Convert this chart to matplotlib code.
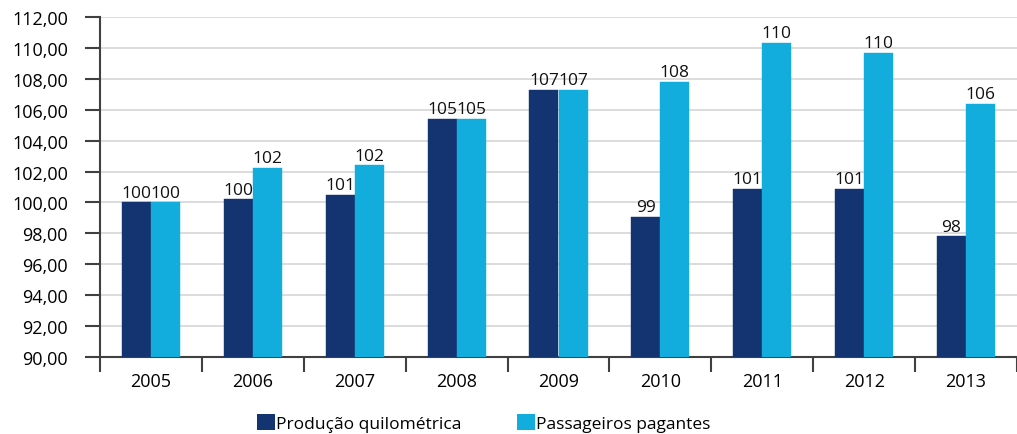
import matplotlib
matplotlib.use("Agg")
import matplotlib.pyplot as plt
import numpy as np
from matplotlib.patches import Patch

years = ["2005", "2006", "2007", "2008", "2009", "2010", "2011", "2012", "2013"]
producao = [100.0, 100.2, 100.5, 105.4, 107.3, 99.05, 100.9, 100.85, 97.8]
passageiros = [100.0, 102.25, 102.4, 105.4, 107.3, 107.8, 110.3, 109.7, 106.4]
producao_labels = ["100", "100", "101", "105", "107", "99", "101", "101", "98"]
passageiros_labels = ["100", "102", "102", "105", "107", "108", "110", "110", "106"]
yticks = [90, 92, 94, 96, 98, 100, 102, 104, 106, 108, 110, 112]

dark = "#143371"
light = "#12addc"

plt.rcParams['font.family'] = ['Open Sans', 'DejaVu Sans']

fig = plt.figure(figsize=(10.17, 4.35), dpi=100)
ax = fig.add_axes([100/1017, 1-358/435, 1-100/1017, (358-18)/435])

x = np.arange(len(years))
w = 0.285
ax.bar(x - w/2, [v - 90 for v in producao], w, bottom=90, color=dark, edgecolor=dark, linewidth=0.3, zorder=3)
ax.bar(x + w/2, [v - 90 for v in passageiros], w, bottom=90, color=light, edgecolor=light, linewidth=0.3, zorder=3)

for xi, v, lab in zip(x, producao, producao_labels):
    ax.text(xi - w/2, v + 0.12, lab, ha="center", va="bottom", fontsize=12.5, color="#111111", zorder=4)
for xi, v, lab in zip(x, passageiros, passageiros_labels):
    ax.text(xi + w/2, v + 0.12, lab, ha="center", va="bottom", fontsize=12.5, color="#111111", zorder=4)

ax.set_ylim(90, 112)
ax.set_xlim(-0.5, (1017-100)/103.1 - 0.5)
ax.set_yticks(yticks)
ax.set_yticklabels([f"{t:.2f}".replace(".", ",") for t in yticks], fontsize=13)
ax.yaxis.grid(True, color="#d9d9d9", linewidth=1.3, zorder=0)
ax.set_axisbelow(True)

ax.set_xticks(x)
ax.set_xticklabels(years, fontsize=13)
ax.tick_params(axis="x", which="major", length=0, pad=11)
ax.set_xticks(np.arange(len(years) + 1) - 0.5, minor=True)
ax.tick_params(axis="x", which="minor", length=11, width=1.5, color="#404040", direction="out")
ax.tick_params(axis="y", length=11, width=1.5, color="#404040", pad=12)

for s in ["top", "right"]:
    ax.spines[s].set_visible(False)
for s in ["left", "bottom"]:
    ax.spines[s].set_color("#404040")
    ax.spines[s].set_linewidth(1.5)

handles = [Patch(facecolor=dark, label="Produção quilométrica"),
           Patch(facecolor=light, label="Passageiros pagantes")]
fig.legend(handles=handles, loc="center", bbox_to_anchor=(484/1017, 1-424/435), ncol=2,
           frameon=False, fontsize=12.5, handlelength=1.0, handleheight=1.0,
           handletextpad=0.1, columnspacing=3.2)

fig.savefig("out.png", dpi=100)
